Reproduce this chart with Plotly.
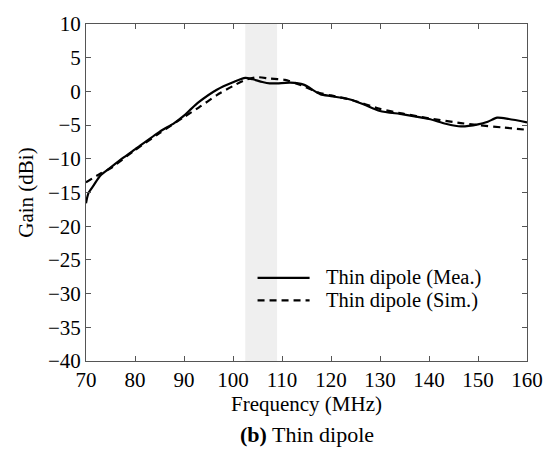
import plotly.graph_objects as go

freq_mea = [70, 70.5, 71.6, 72.9, 75, 77.7, 80, 85, 88, 90, 91.3, 93, 96.7, 100, 102.5, 104, 106, 107.5, 109,
            111.7, 114.4, 117.8, 120, 123.9, 126.6, 130, 134.7, 140, 143.4, 146.5, 150, 152, 153.9, 156.3, 160]
gain_mea = [-16.6, -15.1, -13.9, -12.5, -11.3, -9.8, -8.6, -6.0, -4.7, -3.6, -2.7, -1.6, 0.25, 1.35, 2.0, 1.8, 1.4, 1.2, 1.2,
            1.3, 1.0, -0.4, -0.7, -1.2, -1.9, -2.9, -3.4, -4.1, -4.8, -5.2, -4.9, -4.5, -3.9, -4.1, -4.6]

freq_sim = [70, 72.9, 75, 80, 85, 90, 93, 96.7, 100, 102.5, 105, 107.5, 110.6, 114, 117.5, 120, 123.9, 130,
            134.7, 140, 146.5, 150, 155, 160]
gain_sim = [-13.5, -12.2, -11.4, -8.7, -6.2, -3.8, -2.4, -0.56, 0.8, 1.7, 2.1, 1.9, 1.7, 0.9, -0.2, -0.6, -1.2, -2.6,
            -3.3, -4.0, -4.7, -5.0, -5.35, -5.7]

series_names = ["Thin dipole (Mea.)", "Thin dipole (Sim.)"]
band = [102.5, 109]
x_ticks = [70, 80, 90, 100, 110, 120, 130, 140, 150, 160]
y_ticks = [10, 5, 0, -5, -10, -15, -20, -25, -30, -35, -40]

FONT = "Liberation Serif"
FS = 21

fig = go.Figure()
fig.add_vrect(x0=band[0], x1=band[1], fillcolor="#efefef", line_width=0, layer="below")
fig.add_trace(go.Scatter(x=freq_mea, y=gain_mea, mode="lines", name=series_names[0], showlegend=False,
                         line=dict(color="black", width=2.2, shape="spline", smoothing=0.7)))
fig.add_trace(go.Scatter(x=freq_sim, y=gain_sim, mode="lines", name=series_names[1], showlegend=False,
                         line=dict(color="black", width=2.2, dash="7px,5px", shape="spline", smoothing=0.7)))

axis_common = dict(showgrid=False, zeroline=False, showline=True, linecolor="#555", linewidth=1,
                   mirror="ticks", ticks="inside", ticklen=5, tickcolor="#555",
                   tickfont=dict(family=FONT, size=FS, color="black"))

fig.update_layout(
    width=555, height=456,
    margin=dict(l=86, r=27, t=14, b=95),
    paper_bgcolor="white", plot_bgcolor="white",
    font=dict(family=FONT, color="black"),
    xaxis=dict(range=[70, 160], tickvals=x_ticks,
               title=dict(text="Frequency (MHz)", font=dict(family=FONT, size=FS), standoff=4),
               **axis_common),
    yaxis=dict(range=[-40, 10], tickvals=y_ticks,
               title=dict(text="Gain (dBi)", font=dict(family=FONT, size=FS), standoff=8),
               **axis_common),
    showlegend=False,
)

# manual legend
leg_y = [0.2464, 0.1801]
leg_dash = ["solid", "7px,5px"]
for name, yy, dsh in zip(series_names, leg_y, leg_dash):
    fig.add_shape(type="line", xref="paper", yref="paper", x0=0.389, x1=0.507, y0=yy, y1=yy,
                  line=dict(color="black", width=2.2, dash=dsh))
    fig.add_annotation(text=name, xref="paper", yref="paper", x=0.541, y=yy, xanchor="left",
                       yanchor="middle", showarrow=False, borderpad=0,
                       font=dict(family=FONT, size=20.5))

fig.add_annotation(text="<b>(b)</b> Thin dipole", xref="paper", yref="paper", x=0.5, y=-0.219,
                   showarrow=False, font=dict(family=FONT, size=22), yanchor="middle")

fig.write_html("out.html")
